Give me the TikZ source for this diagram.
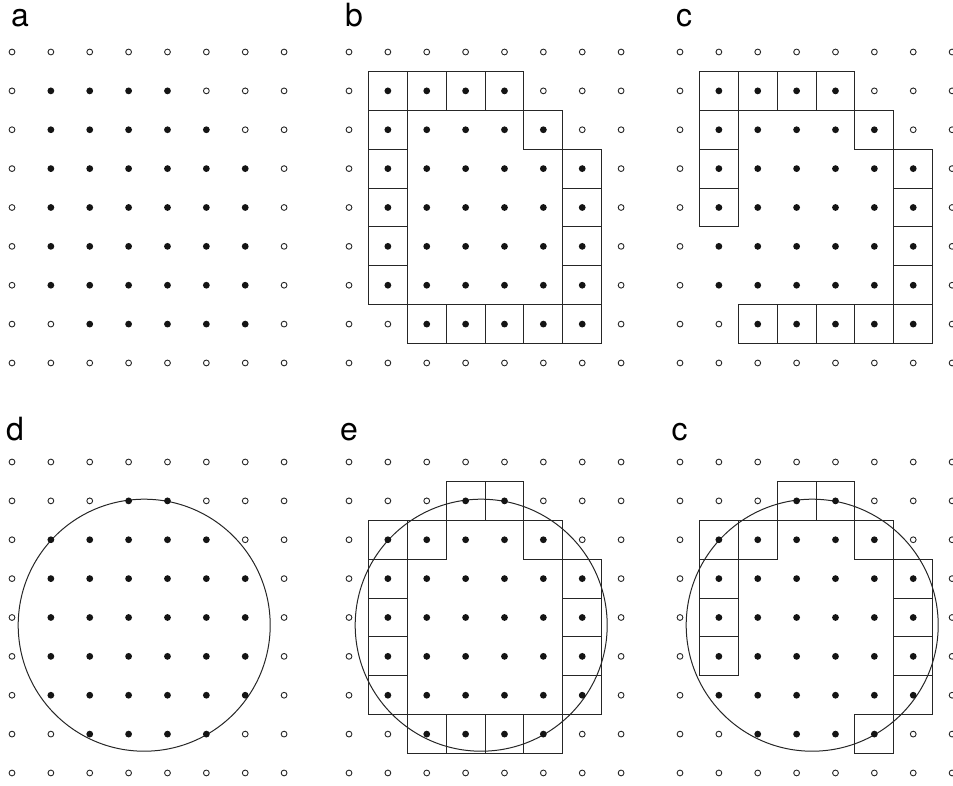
\documentclass[tikz,border=0pt]{standalone}
\usepackage{fontspec}
\setmainfont{TeX Gyre Heros}
\begin{document}
\def\s{38.87}
\tikzset{
  dotfill/.style={fill=black!92},
  dotopen/.style={draw=black!85,line width=0.9pt,fill=white},
  cell/.style={draw=black!85,line width=1pt},
  ring/.style={draw=black!85,line width=1pt},
  panellabel/.style={anchor=base,inner sep=0pt,font=\fontsize{32}{38}\selectfont},
  dotsA/.pic={
    \foreach \r/\lo/\hi in {0/9/-1,1/1/4,2/1/5,3/1/6,4/1/6,5/1/6,6/1/6,7/2/6,8/9/-1}{
      \foreach \c in {0,...,7}{
        \pgfmathtruncatemacro\isin{and(\c>=\lo,\c<=\hi)}
        \ifnum\isin=1
          \fill[dotfill] ({\c*\s},{\r*\s}) circle (3.4);
        \else
          \draw[dotopen] ({\c*\s},{\r*\s}) circle (2.9);
        \fi
      }
    }
  },
  dotsD/.pic={
    \foreach \r/\lo/\hi in {0/9/-1,1/3/4,2/1/5,3/1/6,4/1/6,5/1/6,6/1/6,7/2/5,8/9/-1}{
      \foreach \c in {0,...,7}{
        \pgfmathtruncatemacro\isin{and(\c>=\lo,\c<=\hi)}
        \ifnum\isin=1
          \fill[dotfill] ({\c*\s},{\r*\s}) circle (3.4);
        \else
          \draw[dotopen] ({\c*\s},{\r*\s}) circle (2.9);
        \fi
      }
    }
  }
}
\begin{tikzpicture}[x=1pt,y=-1pt]
\useasboundingbox (0,0) rectangle (953,785);
% labels
\node[panellabel] (la) at (20,26) {a};
\node[panellabel] (lb) at (354,26) {b};
\node[panellabel] (lc) at (684,26) {c};
\node[panellabel] (ld) at (15,440) {d};
\node[panellabel] (le) at (349,440) {e};
\node[panellabel] (lc2) at (679.5,440) {c};
% panel b squares
\begin{scope}[shift={(349,52)}]
  \foreach \c/\r in {1/1,2/1,3/1,4/1,1/2,5/2,1/3,6/3,1/4,6/4,1/5,6/5,1/6,6/6,2/7,3/7,4/7,5/7,6/7}
    \draw[cell] ({(\c-0.5)*\s},{(\r-0.5)*\s}) rectangle +(\s,\s);
\end{scope}
% panel c squares
\begin{scope}[shift={(680,52)}]
  \foreach \c/\r in {1/1,2/1,3/1,4/1,1/2,5/2,1/3,6/3,1/4,6/4,6/5,6/6,2/7,3/7,4/7,5/7,6/7}
    \draw[cell] ({(\c-0.5)*\s},{(\r-0.5)*\s}) rectangle +(\s,\s);
\end{scope}
% panel e squares
\begin{scope}[shift={(349,462)}]
  \foreach \c/\r in {3/1,4/1,1/2,2/2,5/2,1/3,6/3,1/4,6/4,1/5,6/5,1/6,6/6,2/7,3/7,4/7,5/7}
    \draw[cell] ({(\c-0.5)*\s},{(\r-0.5)*\s}) rectangle +(\s,\s);
\end{scope}
% panel c (second) squares
\begin{scope}[shift={(680,462)}]
  \foreach \c/\r in {3/1,4/1,1/2,2/2,5/2,1/3,6/3,1/4,6/4,1/5,6/5,6/6,5/7}
    \draw[cell] ({(\c-0.5)*\s},{(\r-0.5)*\s}) rectangle +(\s,\s);
\end{scope}
% circles
\draw[ring] (144.2,625.2) circle (126);
\draw[ring] (481.2,625.2) circle (126);
\draw[ring] (812.2,625.2) circle (126);
% dot grids
\pic at (12,52) {dotsA};
\pic at (349,52) {dotsA};
\pic at (680,52) {dotsA};
\pic at (12,462) {dotsD};
\pic at (349,462) {dotsD};
\pic at (680,462) {dotsD};
\end{tikzpicture}
\end{document}
